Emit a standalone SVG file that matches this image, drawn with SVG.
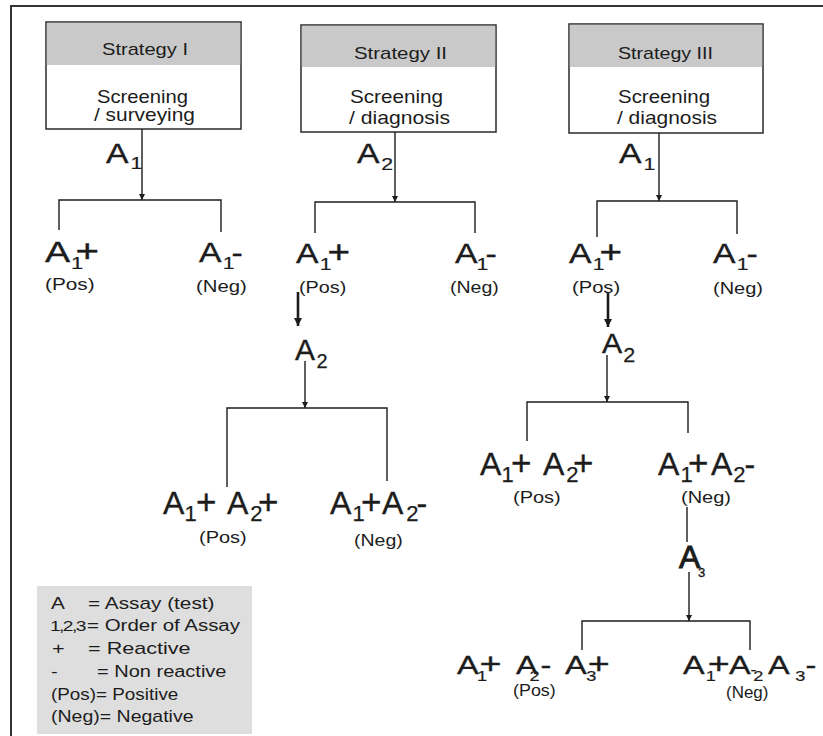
<svg xmlns="http://www.w3.org/2000/svg" width="823" height="736" viewBox="0 0 823 736">
<style>
text{font-family:"Liberation Sans",Arial,Helvetica,sans-serif;fill:#1c1c1c}
.big{font-size:27px;stroke:#1c1c1c;stroke-width:0.35}
.mid{font-size:32px;stroke:#1c1c1c;stroke-width:0.35}
.bot{font-size:25px;stroke:#1c1c1c;stroke-width:0.3}
.pl{font-size:31px}
.plm{font-size:35px}
.plb{font-size:29px}
.s17{font-size:17px;stroke-width:0.2}
.s15{font-size:14px;stroke-width:0.2}
.s22{font-size:22px;stroke-width:0.25}
.s20{font-size:20px;stroke-width:0.25}
.s13{font-size:13px}
.sm{font-size:16px}
.title{font-size:17px}
.sub2{font-size:18.5px}
.ln{fill:none;stroke:#1c1c1c;stroke-width:1.4}
.thick{fill:none;stroke:#1c1c1c;stroke-width:2.6}
.box{fill:#fff;stroke:#2a2a2a;stroke-width:1.5}
.hdr{fill:#c9c9c9}
.frame{fill:none;stroke:#333;stroke-width:2}
</style>
<defs>
<marker id="arr" viewBox="0 0 10 10" refX="10" refY="5" markerWidth="8" markerHeight="6" markerUnits="userSpaceOnUse" orient="auto"><path d="M0,0 L10,5 L0,10 z" fill="#1c1c1c"/></marker>
<marker id="arrT" viewBox="0 0 10 10" refX="10" refY="5" markerWidth="8" markerHeight="8" markerUnits="userSpaceOnUse" orient="auto"><path d="M0,0 L10,5 L0,10 z" fill="#1c1c1c"/></marker>
</defs>

<path class="frame" d="M11,736 V6 H823"/>

<!-- Boxes -->
<g id="box-strategy-1">
<rect class="box" x="46" y="22" width="195" height="107"/>
<rect class="hdr" x="46.8" y="22.8" width="193.4" height="42.2"/>
<text class="title" x="102" y="55" textLength="86" lengthAdjust="spacingAndGlyphs">Strategy I</text>
<text class="sub2" x="97" y="103" textLength="91" lengthAdjust="spacingAndGlyphs">Screening</text>
<text class="sub2" x="94" y="121" textLength="101" lengthAdjust="spacingAndGlyphs">/ surveying</text>
</g>
<g id="box-strategy-2">
<rect class="box" x="301" y="25" width="195" height="107"/>
<rect class="hdr" x="301.8" y="25.8" width="193.4" height="41.2"/>
<text class="title" x="354" y="59" textLength="93" lengthAdjust="spacingAndGlyphs">Strategy II</text>
<text class="sub2" x="350" y="103" textLength="93" lengthAdjust="spacingAndGlyphs">Screening</text>
<text class="sub2" x="349" y="124" textLength="101" lengthAdjust="spacingAndGlyphs">/ diagnosis</text>
</g>
<g id="box-strategy-3">
<rect class="box" x="569" y="24" width="194" height="109"/>
<rect class="hdr" x="569.8" y="24.8" width="192.4" height="42.2"/>
<text class="title" x="618" y="59" textLength="95" lengthAdjust="spacingAndGlyphs">Strategy III</text>
<text class="sub2" x="618" y="103" textLength="92" lengthAdjust="spacingAndGlyphs">Screening</text>
<text class="sub2" x="617" y="124" textLength="100" lengthAdjust="spacingAndGlyphs">/ diagnosis</text>
</g>

<!-- Connectors -->
<g id="connectors">
<path class="ln" d="M142,129 V200" marker-end="url(#arr)"/>
<path class="ln" d="M59,230 V200 H221 V232"/>
<path class="ln" d="M395,132 V202" marker-end="url(#arr)"/>
<path class="ln" d="M315,233 V202 H475 V233"/>
<path class="thick" d="M298,292 V326" marker-end="url(#arrT)"/>
<path class="ln" d="M305,361 V408" marker-end="url(#arr)"/>
<path class="ln" d="M227,487 V408 H387 V481"/>
<path class="ln" d="M659,133 V201" marker-end="url(#arr)"/>
<path class="ln" d="M597,237 V201 H737 V234"/>
<path class="thick" d="M608,292 V327" marker-end="url(#arrT)"/>
<path class="ln" d="M607,355 V402" marker-end="url(#arr)"/>
<path class="ln" d="M527,441 V402 H688 V433"/>
<path class="ln" d="M687,507 V542"/>
<path class="ln" d="M689,572 V621" marker-end="url(#arr)"/>
<path class="ln" d="M582,650 V621 H750 V650"/>
</g>

<!-- Strategy I labels -->
<g id="s1-assay"><text class="big" transform="translate(106 163) scale(1.25 1)">A<tspan class="s17" x="19.7" y="6">1</tspan></text></g>
<g id="s1-pos"><text class="big" style="font-size:29px" transform="translate(45 262) scale(1.3 1)">A<tspan class="s17" x="20" y="7">1</tspan><tspan class="pl" x="23.5" y="0">+</tspan></text>
<text class="sm" transform="translate(45 290) scale(1.3 1)">(Pos)</text></g>
<g id="s1-neg"><text class="big" transform="translate(199 262) scale(1.25 1)">A<tspan class="s17" x="19" y="7">1</tspan><tspan x="26" y="0">-</tspan></text>
<text class="sm" transform="translate(196 292) scale(1.27 1)">(Neg)</text></g>

<!-- Strategy II labels -->
<g id="s2-assay"><text class="big" transform="translate(357 163) scale(1.25 1)">A<tspan class="s17" x="19.5" y="7">2</tspan></text></g>
<g id="s2-pos"><text class="big" transform="translate(296 263) scale(1.25 1)">A<tspan class="s17" x="19" y="7">1</tspan><tspan class="pl" x="25.2" y="0">+</tspan></text>
<text class="sm" transform="translate(299 293) scale(1.24 1)">(Pos)</text></g>
<g id="s2-neg"><text class="big" transform="translate(455 263) scale(1.25 1)">A<tspan class="s17" x="17.3" y="7">1</tspan><tspan x="24.4" y="0">-</tspan></text>
<text class="sm" transform="translate(450 293) scale(1.22 1)">(Neg)</text></g>
<g id="s2-assay2"><text class="big" style="font-size:30px" transform="translate(295 360)">A<tspan class="s20" x="21.4" y="8">2</tspan></text></g>
<g id="s2-pospos"><text class="mid" transform="translate(163 514)">A<tspan class="s22" x="21.6" y="7">1</tspan><tspan class="plm" x="33" y="0">+</tspan><tspan x="64" y="0">A</tspan><tspan class="s22" x="87.3" y="7">2</tspan><tspan class="plm" x="95" y="0">+</tspan></text>
<text class="sm" transform="translate(199 543) scale(1.25 1)">(Pos)</text></g>
<g id="s2-posneg"><text class="mid" transform="translate(330 514)">A<tspan class="s22" x="22.6" y="7">1</tspan><tspan class="plm" x="31" y="0">+</tspan><tspan x="52" y="0">A</tspan><tspan class="s22" x="76.3" y="7">2</tspan><tspan x="86.6" y="0">-</tspan></text>
<text class="sm" transform="translate(354 546) scale(1.22 1)">(Neg)</text></g>

<!-- Strategy III labels -->
<g id="s3-assay"><text class="big" transform="translate(619 163) scale(1.25 1)">A<tspan class="s17" x="19.7" y="7">1</tspan></text></g>
<g id="s3-pos"><text class="big" transform="translate(569 263) scale(1.25 1)">A<tspan class="s17" x="19" y="7">1</tspan><tspan class="pl" x="24.5" y="0">+</tspan></text>
<text class="sm" transform="translate(572 293) scale(1.26 1)">(Pos)</text></g>
<g id="s3-neg"><text class="big" transform="translate(713 263) scale(1.25 1)">A<tspan class="s17" x="19" y="7">1</tspan><tspan x="26.8" y="0">-</tspan></text>
<text class="sm" transform="translate(713 294) scale(1.25 1)">(Neg)</text></g>
<g id="s3-assay2"><text class="big" style="font-size:28px" transform="translate(602 353) scale(1.08 1)">A<tspan class="s20" x="19.8" y="9">2</tspan></text></g>
<g id="s3-pospos"><text class="mid" transform="translate(480 475)">A<tspan class="s22" x="21.6" y="7">1</tspan><tspan class="plm" x="31" y="0">+</tspan><tspan x="63" y="0">A</tspan><tspan class="s22" x="86.3" y="7">2</tspan><tspan class="plm" x="93" y="0">+</tspan></text>
<text class="sm" transform="translate(513 503) scale(1.25 1)">(Pos)</text></g>
<g id="s3-posneg"><text class="mid" transform="translate(658 475)">A<tspan class="s22" x="22.6" y="7">1</tspan><tspan class="plm" x="30" y="0">+</tspan><tspan x="53" y="0">A</tspan><tspan class="s22" x="75.3" y="7">2</tspan><tspan x="86.6" y="0">-</tspan></text>
<text class="sm" transform="translate(681 503) scale(1.25 1)">(Neg)</text></g>
<g id="s3-assay3"><text class="mid" style="stroke-width:1" transform="translate(679 568)">A<tspan class="s13" x="19" y="9" style="stroke-width:0.4">3</tspan></text></g>
<g id="s3-final-pos"><text class="bot" transform="translate(457 674) scale(1.3 1)">A<tspan class="s15" x="15.3" y="7">1</tspan><tspan class="plb" x="17.4" y="0">+</tspan><tspan x="45.4" y="0">A</tspan><tspan class="s15" x="55.7" y="7">2</tspan><tspan x="64.3" y="0">-</tspan><tspan x="83.1" y="0">A</tspan><tspan class="s15" x="99.4" y="7">3</tspan><tspan class="plb" x="100.5" y="0">+</tspan></text>
<text class="sm" transform="translate(513 696) scale(1.12 1)">(Pos)</text></g>
<g id="s3-final-neg"><text class="bot" transform="translate(683 674) scale(1.3 1)">A<tspan class="s15" x="17.6" y="7">1</tspan><tspan class="plb" x="19" y="0">+</tspan><tspan x="35.4" y="0">A</tspan><tspan class="s15" x="52" y="1">-</tspan><tspan class="s15" x="54.1" y="7">2</tspan><tspan x="65.4" y="0">A</tspan><tspan class="s15" x="86.3" y="7">3</tspan><tspan x="94.3" y="0">-</tspan></text>
<text class="sm" transform="translate(726 698) scale(1.06 1)">(Neg)</text></g>

<!-- Legend -->
<g id="legend">
<rect x="37" y="586" width="215" height="148" fill="#dedede"/>
<text class="sm" transform="translate(0 609) scale(1.3 1)"><tspan x="39.2">A</tspan><tspan x="67.7">= Assay (test)</tspan></text>
<text class="sm" transform="translate(0 631) scale(1.28 1)"><tspan x="39" style="font-size:15px;letter-spacing:-1.2px">1,2,3</tspan><tspan x="68">= Order of Assay</tspan></text>
<text class="sm" transform="translate(0 654) scale(1.35 1)"><tspan x="38.5">+</tspan><tspan x="65.2">= Reactive</tspan></text>
<text class="sm" transform="translate(0 677) scale(1.25 1)"><tspan x="40.8">-</tspan><tspan x="77.6">= Non reactive</tspan></text>
<text class="sm" transform="translate(0 700) scale(1.18 1)" x="43.2">(Pos)= Positive</text>
<text class="sm" transform="translate(0 722) scale(1.22 1)" x="41.8">(Neg)= Negative</text>
</g>
</svg>
